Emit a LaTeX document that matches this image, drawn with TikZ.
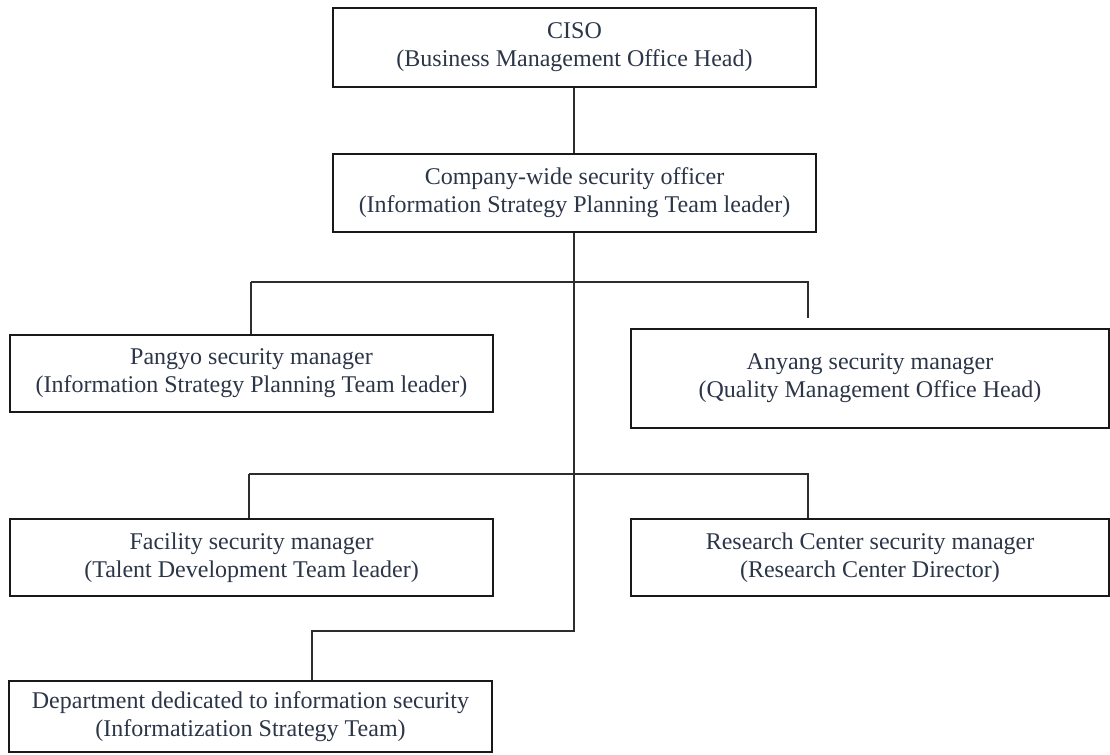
\documentclass[tikz,border=0pt]{standalone}
\usepackage{fontspec}
\setmainfont{Liberation Serif}
\definecolor{boxline}{RGB}{25,25,25}
\definecolor{linkc}{RGB}{45,45,45}
\definecolor{txt}{RGB}{44,54,72}
\begin{document}
\begin{tikzpicture}[x=0.75pt,y=-0.75pt,
  post/.style={draw=boxline, line width=1.5pt, fill=white, inner sep=0pt,
    minimum width=362.25pt, minimum height=57.75pt, align=center,
    text=txt, font=\fontsize{18}{21.2}\selectfont},
  link/.style={draw=linkc, line width=1pt}]
\useasboundingbox (0,0) rectangle (1110,754);

% posts
\node[post, minimum height=59.25pt] (ciso) at (574.5,47.5)
  {CISO\\(Business Management Office Head)};
\node[post, minimum height=58.5pt] (cwo) at (574.5,193)
  {Company-wide security officer\\(Information Strategy Planning Team leader)};
\node[post] (pangyo) at (251.5,373.5)
  {Pangyo security manager\\(Information Strategy Planning Team leader)};
\node[post, minimum width=358.5pt, minimum height=74.25pt] (anyang) at (870,378.5)
  {Anyang security manager\\(Quality Management Office Head)};
\node[post] (facility) at (251.5,557.5)
  {Facility security manager\\(Talent Development Team leader)};
\node[post, minimum width=358.5pt] (research) at (870,557.5)
  {Research Center security manager\\(Research Center Director)};
\node[post, minimum height=53.6pt] (dept) at (250.5,716.75)
  {Department dedicated to information security\\(Informatization Strategy Team)};

% branch points on the trunk
\coordinate (j1) at (574,282);
\coordinate (j2) at (574,474);
\coordinate (j3) at (574,631);
\coordinate (ptap) at (251,282);
\coordinate (atap) at (808,282);
\coordinate (aend) at (808,318);
\coordinate (ftap) at (249,474);
\coordinate (rtap) at (808,474);
\coordinate (dtap) at (312,631);

% connectors
\draw[link] (ciso.south -| j1) -- (cwo.north -| j1);
\draw[link] (cwo.south -| j1) -- (j3) -- (dtap) -- (dtap |- dept.north);
\draw[link] (ptap) -- (atap) -- (aend);
\draw[link] (ptap) -- (ptap |- pangyo.north);
\draw[link] (ftap) -- (rtap) -- (rtap |- research.north);
\draw[link] (ftap) -- (ftap |- facility.north);
\end{tikzpicture}
\end{document}
